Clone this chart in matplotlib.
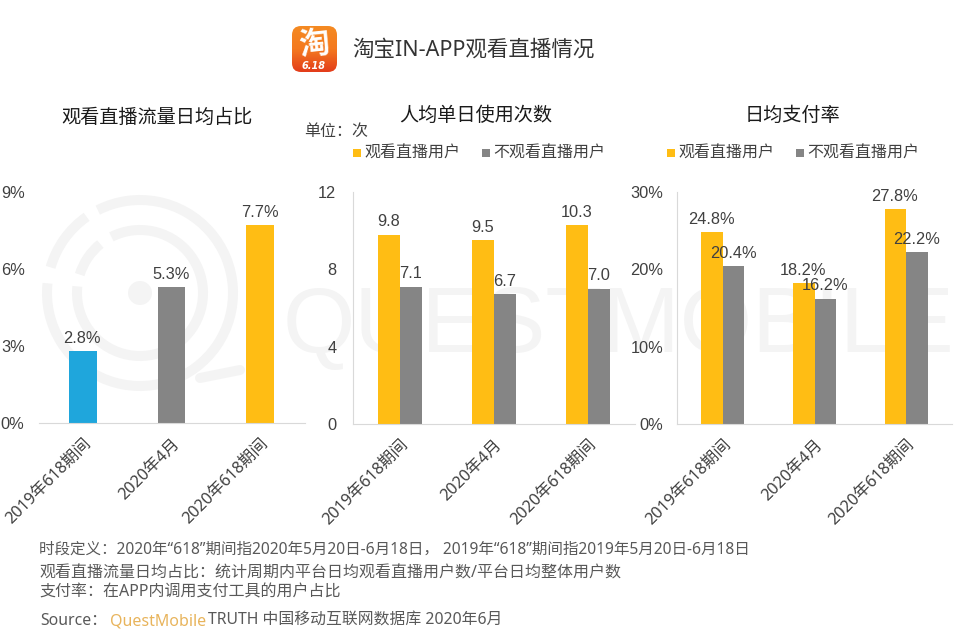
import numpy as np
import matplotlib.pyplot as plt
from matplotlib.colors import LinearSegmentedColormap
from matplotlib.patches import FancyBboxPatch, Arc, Circle

plt.rcParams['font.family'] = ['Noto Sans', 'Noto Sans CJK SC', 'DejaVu Sans']

W, H = 955, 640

periods = ["2019年618期间", "2020年4月", "2020年618期间"]
share = [2.8, 5.3, 7.7]
share_colors = ["#1fa6dc", "#858585", "#ffbd14"]
use_watch = [9.8, 9.5, 10.3]
use_nowatch = [7.1, 6.7, 7.0]
pay_watch = [24.8, 18.2, 27.8]
pay_nowatch = [20.4, 16.2, 22.2]

YELLOW = "#ffbd14"
GRAY = "#858585"
TXT = "#404040"
NUM_FONT = "Liberation Sans"
NUM_SIZE = 11.8


def px_axes(fig, x0, x1, y_top, y_bot):
    return fig.add_axes([x0 / W, 1 - y_bot / H, (x1 - x0) / W, (y_bot - y_top) / H])


def style(ax, ymax, ticks, ticklabels, pad):
    ax.patch.set_alpha(0)
    ax.set_xlim(-0.5, 2.5)
    ax.set_ylim(0, ymax)
    ax.set_yticks(ticks)
    ax.set_yticklabels(ticklabels, fontsize=NUM_SIZE, color=TXT, family=NUM_FONT)
    ax.set_xticks(range(3))
    ax.set_xticklabels(periods, rotation=45, ha="right", rotation_mode="anchor",
                       fontsize=11.7, color=TXT)
    ax.tick_params(length=0)
    ax.tick_params(axis="x", pad=9)
    ax.tick_params(axis="y", pad=pad)
    for s in ["top", "right", "left"]:
        ax.spines[s].set_visible(False)
    ax.spines["bottom"].set_color("#d9d9d9")


def value_label(ax, x, y, s):
    ax.annotate(s, (x, y), xytext=(-0.5, 6), textcoords="offset points", ha="center",
                fontsize=NUM_SIZE, color=TXT, family=NUM_FONT)


fig = plt.figure(figsize=(W / 100, H / 100), dpi=100)

# full figure layer in pixel coords, for watermark, logo and notes
bg = fig.add_axes([0, 0, 1, 1], zorder=0)

# logo gradient first, imshow resets the limits
grad = np.linspace(0, 1, 64).reshape(-1, 1)
im = bg.imshow(grad, extent=(292, 337, 72, 26), aspect="auto", zorder=2,
               cmap=LinearSegmentedColormap.from_list("logo", ["#f58a22", "#f4791f", "#e33d1a"]))
logo = FancyBboxPatch((292, 26), 45, 46, boxstyle="round,pad=0,rounding_size=9",
                      fc="none", ec="none", transform=bg.transData)
bg.add_patch(logo)
im.set_clip_path(logo)

bg.set_xlim(0, W)
bg.set_ylim(H, 0)
bg.axis("off")

# watermark, y runs down here so angles go clockwise on screen
wm = "#f4f4f4"
cx, cy = 140, 293
bg.add_patch(Circle((cx, cy), 12, color=wm, lw=0))
for diam, t1, t2 in [(186, -117, 186), (186, 196, 235), (126, -117, 186), (126, 197, 231)]:
    bg.add_patch(Arc((cx, cy), diam, diam, theta1=t1, theta2=t2, color=wm, lw=7.2))
bg.plot([200, 240], [378, 370], color=wm, lw=7.2, solid_capstyle="round")
bg.text(283, 328, "QUESTMOBILE", fontsize=67, color=wm, family=NUM_FONT, va="center", ha="left")

# logo text
bg.text(314, 45, "淘", fontsize=22, color="white", weight="bold", ha="center", va="center",
        rotation=6, zorder=3)
bg.text(314, 66, "6.18", fontsize=7, color="white", style="italic", weight="bold",
        ha="center", va="center", family="DejaVu Sans", zorder=3)

bg.text(352, 50, "淘宝IN-APP观看直播情况", fontsize=15.5, color="#333333", va="center")

# panel titles
bg.text(157, 118, "观看直播流量日均占比", fontsize=13.8, color="#1a1a1a", ha="center", va="center")
bg.text(476, 116, "人均单日使用次数", fontsize=13.8, color="#1a1a1a", ha="center", va="center")
bg.text(792, 116, "日均支付率", fontsize=13.8, color="#1a1a1a", ha="center", va="center")
bg.text(304, 132, "单位：次", fontsize=11.5, color=TXT, va="center")

# legends
for x_y, x_g in [(353, 482), (667, 796)]:
    bg.plot([x_y + 4], [153], "s", ms=5.8, color=YELLOW, mew=0)
    bg.text(x_y + 11, 154, "观看直播用户", fontsize=11.5, color=TXT, va="center")
    bg.plot([x_g + 4], [153], "s", ms=5.8, color=GRAY, mew=0)
    bg.text(x_g + 11, 154, "不观看直播用户", fontsize=11.5, color=TXT, va="center")

# notes
notes = [
    (39, 550, 11.2, "时段定义：2020年“618”期间指2020年5月20日-6月18日， 2019年“618”期间指2019年5月20日-6月18日"),
    (39, 574, 11.5, "观看直播流量日均占比：统计周期内平台日均观看直播用户数/平台日均整体用户数"),
    (39, 592, 11.5, "支付率：在APP内调用支付工具的用户占比"),
]
for x, y, fs, s in notes:
    bg.text(x, y, s, fontsize=fs, color="#595959", va="center")
bg.text(40, 621, "Source：", fontsize=11.4, color="#595959", va="center")
bg.text(110, 621, "QuestMobile", fontsize=11.5, color="#e8b45c", va="center")
bg.text(208, 621, "TRUTH 中国移动互联网数据库 2020年6月", fontsize=11.4, color="#595959", va="center")

# left panel
ax1 = px_axes(fig, 38.5, 304.5, 192, 423)
style(ax1, 9, [0, 3, 6, 9], ["0%", "3%", "6%", "9%"], 10)
ax1.bar(range(3), share, width=0.315, color=share_colors)
for i, v in enumerate(share):
    value_label(ax1, i, v, f"{v}%")

bw = 0.236
# middle panel
ax2 = px_axes(fig, 353, 635, 192, 424)
style(ax2, 12, [0, 4, 8, 12], ["0", "4", "8", "12"], 12)
ax2.spines["left"].set_visible(True)
ax2.spines["left"].set_color("#d9d9d9")
ax2.bar([i - bw / 2 for i in range(3)], use_watch, width=bw, color=YELLOW)
ax2.bar([i + bw / 2 for i in range(3)], use_nowatch, width=bw, color=GRAY)
for i in range(3):
    value_label(ax2, i - bw / 2, use_watch[i], f"{use_watch[i]}")
    value_label(ax2, i + bw / 2, use_nowatch[i], f"{use_nowatch[i]}")

# right panel
ax3 = px_axes(fig, 677, 952, 192, 424)
style(ax3, 30, [0, 10, 20, 30], ["0%", "10%", "20%", "30%"], 10)
ax3.spines["left"].set_visible(True)
ax3.spines["left"].set_color("#d9d9d9")
ax3.bar([i - bw / 2 for i in range(3)], pay_watch, width=bw, color=YELLOW)
ax3.bar([i + bw / 2 for i in range(3)], pay_nowatch, width=bw, color=GRAY)
for i in range(3):
    value_label(ax3, i - bw / 2, pay_watch[i], f"{pay_watch[i]}%")
    value_label(ax3, i + bw / 2, pay_nowatch[i], f"{pay_nowatch[i]}%")

fig.savefig("out.png", dpi=100)
